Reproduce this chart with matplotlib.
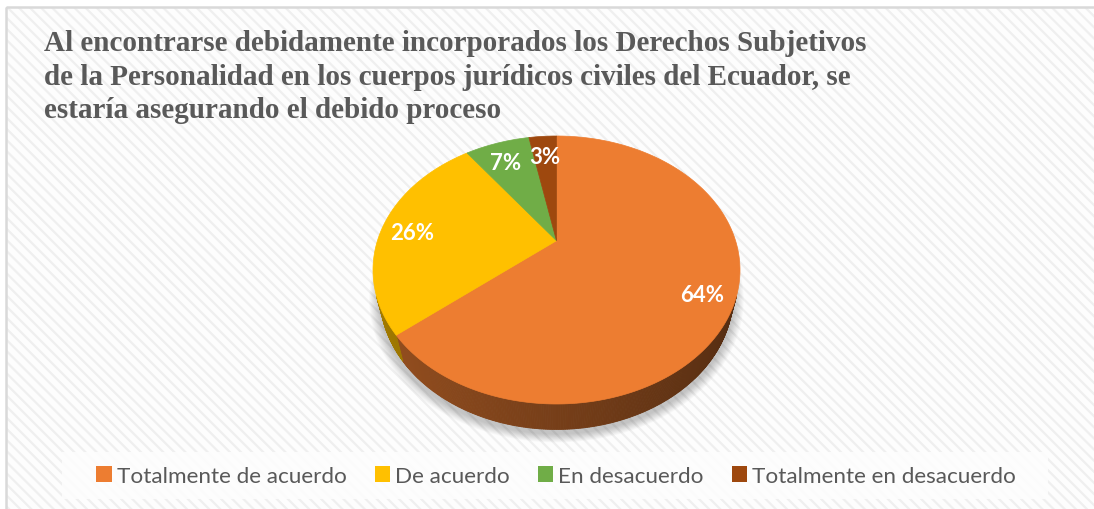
import matplotlib

matplotlib.use("Agg")
import matplotlib.pyplot as plt
import numpy as np
from matplotlib.patches import Patch, Polygon, Rectangle

# data
categories = ["Totalmente de acuerdo", "De acuerdo", "En desacuerdo", "Totalmente en desacuerdo"]
values = [64, 26, 7, 3]
colors = ["#ED7D31", "#FFC000", "#70AD47", "#9E480E"]
title = ("Al encontrarse debidamente incorporados los Derechos Subjetivos\n"
         "de la Personalidad en los cuerpos jurídicos civiles del Ecuador, se\n"
         "estaría asegurando el debido proceso")

# 3d view of the pie (perspective)
ELEV = np.radians(42)
DIST = 3.4
DEPTH = 0.19
TOP_BOX = (373, 740, 137, 405)  # pixel box of the top face
LABEL_R = 0.83
LABEL_DY = 5

plt.rcParams["hatch.linewidth"] = 1.6


def project(phi, r=1.0, z=0.0):
    x = r * np.cos(phi)
    y = r * np.sin(phi)
    v = y * np.sin(ELEV) + z * np.cos(ELEV)
    w = DIST + y * np.cos(ELEV) - z * np.sin(ELEV)
    return x / w, v / w


rim = np.linspace(0, 2 * np.pi, 720)
rx, rv = project(rim)
X0, X1, Y0, Y1 = TOP_BOX


def to_px(x, v):
    px = X0 + (np.asarray(x) - rx.min()) / (rx.max() - rx.min()) * (X1 - X0)
    py = Y1 - (np.asarray(v) - rv.min()) / (rv.max() - rv.min()) * (Y1 - Y0)
    return px, py


def pts(phi, r=1.0, z=0.0):
    return np.column_stack(to_px(*project(phi, r, z)))


def shade(color, k):
    rgb = np.array(matplotlib.colors.to_rgb(color))
    return tuple(np.clip(rgb * k, 0, 1))


fig = plt.figure(figsize=(10.94, 5.10), dpi=100)
ax = fig.add_axes([0, 0, 1, 1])
ax.set_xlim(0, 1094)
ax.set_ylim(510, 0)
ax.axis("off")

# chart area with striped background
ax.add_patch(Rectangle((6, 8), 1100, 520, facecolor="#fdfdfd", edgecolor="#efefef",
                       hatch="\\\\\\", linewidth=0, zorder=0))
ax.add_patch(Rectangle((6, 8), 1100, 520, facecolor="none", edgecolor="#d9d9d9",
                       linewidth=1.8, zorder=1))

# wedge angles: start at 12 o'clock, clockwise
fracs = np.array(values) / sum(values)
starts = np.pi / 2 - 2 * np.pi * np.concatenate([[0], np.cumsum(fracs)[:-1]])
ends = starts - 2 * np.pi * fracs

# soft shadow under the pie
bottom = pts(np.linspace(0, 2 * np.pi, 360), z=-DEPTH)
cx, cy = bottom[:, 0].mean(), bottom[:, 1].mean()
for i in range(10, 0, -1):
    grow = 1 + i * 0.006
    poly = np.column_stack([(bottom[:, 0] - cx) * grow + cx, (bottom[:, 1] - cy) * grow + cy + 4])
    ax.add_patch(Polygon(poly, closed=True, facecolor="#000000", alpha=0.025,
                         edgecolor="none", zorder=2))

# visible side wall (between the two silhouette tangents)
yt = -1 / (DIST * np.cos(ELEV))
side_lo = -np.pi - np.arcsin(yt)
side_hi = np.arcsin(yt)
for s, e, c in zip(starts, ends, colors):
    for shift in (0, -2 * np.pi, 2 * np.pi):
        a = max(min(s, e) + shift, side_lo)
        b = min(max(s, e) + shift, side_hi)
        if b <= a:
            continue
        phis = np.linspace(a, b, max(3, int((b - a) * 120)))
        for p0, p1 in zip(phis[:-1], phis[1:]):
            k = 0.50 - 0.15 * np.cos((p0 + p1) / 2)
            quad = np.vstack([pts(np.array([p0, p1])), pts(np.array([p1, p0]), z=-DEPTH)])
            col = shade(c, k)
            ax.add_patch(Polygon(quad, closed=True, facecolor=col, edgecolor=col,
                                 linewidth=0.6, zorder=3))

# top face
for s, e, c in zip(starts, ends, colors):
    arc = pts(np.linspace(s, e, 200))
    poly = np.vstack([pts(np.array([0.0]), r=0.0), arc])
    ax.add_patch(Polygon(poly, closed=True, facecolor=c, edgecolor=c,
                         linewidth=0.5, zorder=4))

# data labels
for s, e, v in zip(starts, ends, values):
    lx, ly = pts(np.array([(s + e) / 2]), r=LABEL_R)[0]
    ax.text(lx, ly + LABEL_DY, f"{v}%", color="white", fontsize=16, fontweight="bold",
            family=["Lato", "DejaVu Sans"], ha="center", va="center", zorder=5)

# title
ax.text(44, 30, title, color="#595959", fontsize=21, fontweight="bold",
        family=["Liberation Serif", "DejaVu Serif"], ha="left", va="top",
        linespacing=1.31, zorder=5)

# legend
ax.add_patch(Rectangle((62, 453), 986, 47, facecolor="#fdfdfd", edgecolor="none",
                       alpha=0.9, zorder=1))
handles = [Patch(facecolor=c, edgecolor="none") for c in colors]
fig.legend(handles, categories, loc="center", bbox_to_anchor=(556 / 1094, 1 - 477 / 510),
           ncol=4, frameon=False, handlelength=0.7, handleheight=0.7, handletextpad=0.2,
           columnspacing=1.25, labelcolor="#595959",
           prop={"family": ["Lato", "DejaVu Sans"], "size": 16.2})

fig.savefig("out.png", dpi=100)
